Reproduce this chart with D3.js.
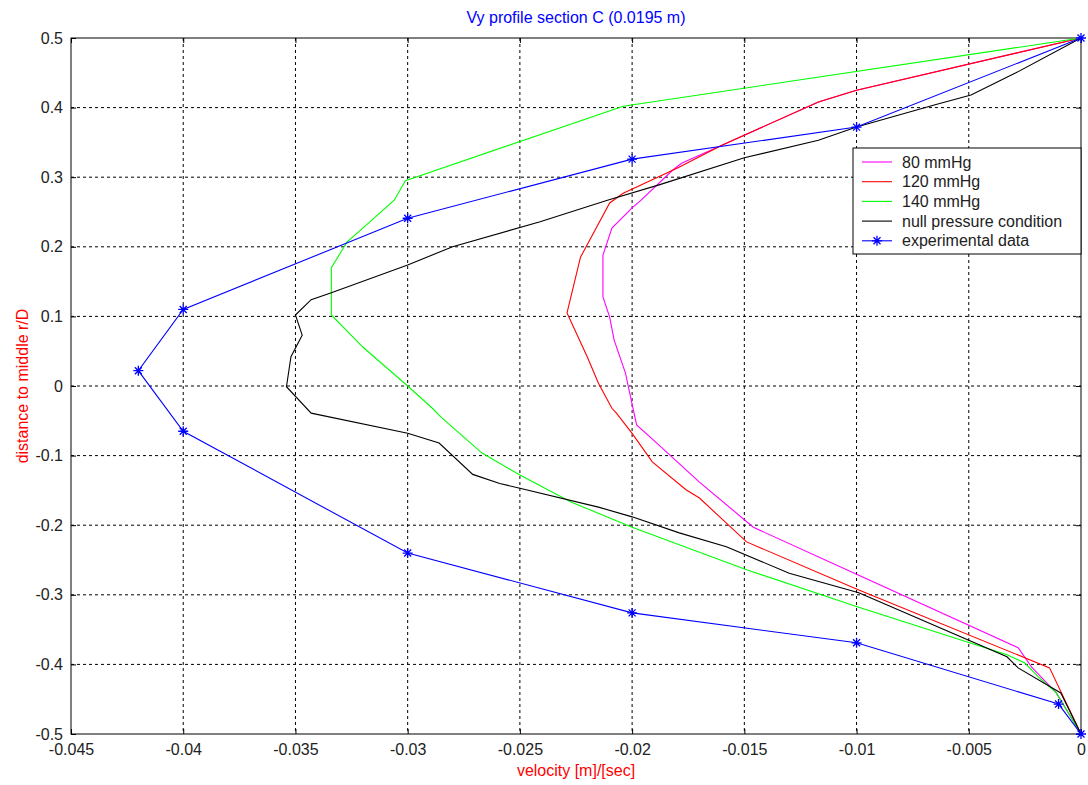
<!DOCTYPE html>
<html>
<head>
<meta charset="utf-8">
<script src="https://cdn.jsdelivr.net/npm/d3@7"></script>
<style>
  body { margin: 0; background: #fff; }
  svg { font-family: "Liberation Sans", Arial, sans-serif; }
</style>
</head>
<body>
<svg id="chart" width="1088" height="785"></svg>
<script>
// data: [velocity, r/D]
const p80 = [[0,0.5],[-0.0100,0.425],[-0.0117,0.408],[-0.0160,0.346],[-0.0178,0.320],[-0.0182,0.310],
  [-0.0196,0.267],[-0.0200,0.256],[-0.0209,0.227],[-0.0213,0.188],[-0.0213,0.128],[-0.0210,0.099],
  [-0.0208,0.066],[-0.0203,0.019],[-0.0198,-0.056],[-0.0189,-0.082],[-0.0170,-0.138],[-0.0146,-0.203],
  [-0.0099,-0.272],[-0.0028,-0.376],[-0.0022,-0.404],[-0.0011,-0.441],[0,-0.5]];

const p120 = [[0,0.5],[-0.0100,0.425],[-0.0117,0.408],[-0.0160,0.346],[-0.0180,0.313],[-0.0204,0.277],
  [-0.0210,0.263],[-0.0223,0.185],[-0.0229,0.105],[-0.0220,0.042],[-0.0215,0.004],[-0.0209,-0.032],
  [-0.0207,-0.039],[-0.0200,-0.068],[-0.0191,-0.109],[-0.0176,-0.149],[-0.0170,-0.161],[-0.0149,-0.224],
  [-0.0099,-0.293],[-0.0014,-0.405],[0,-0.5]];

const p140 = [[0,0.5],[-0.0204,0.402],[-0.0301,0.295],[-0.0306,0.267],[-0.0321,0.224],[-0.0327,0.207],
  [-0.0330,0.191],[-0.0334,0.170],[-0.0334,0.102],[-0.0320,0.056],[-0.0300,0.0],[-0.0289,-0.032],
  [-0.0285,-0.045],[-0.0267,-0.096],[-0.0250,-0.128],[-0.0227,-0.167],[-0.0200,-0.203],[-0.0149,-0.264],
  [-0.0099,-0.318],[-0.0033,-0.386],[-0.0025,-0.398],[-0.0019,-0.418],[-0.0011,-0.441],[0,-0.5]];

const pNull = [[0,0.5],[-0.0029,0.450],[-0.0049,0.418],[-0.0065,0.404],[-0.0100,0.372],[-0.0117,0.353],
  [-0.0150,0.328],[-0.0188,0.289],[-0.0211,0.267],[-0.0241,0.236],[-0.0280,0.200],[-0.0300,0.174],
  [-0.0334,0.134],[-0.0343,0.124],[-0.0350,0.102],[-0.0347,0.073],[-0.0352,0.042],[-0.0354,-0.001],
  [-0.0343,-0.039],[-0.0300,-0.068],[-0.0286,-0.082],[-0.0271,-0.127],[-0.0259,-0.140],[-0.0250,-0.147],
  [-0.0215,-0.174],[-0.0200,-0.188],[-0.0179,-0.211],[-0.0158,-0.231],[-0.0130,-0.269],[-0.0099,-0.297],
  [-0.0033,-0.389],[-0.0028,-0.405],[-0.0009,-0.441],[0,-0.5]];

const expData = [[0,0.5],[-0.01,0.372],[-0.02,0.326],[-0.03,0.241],[-0.04,0.11],[-0.042,0.022],
  [-0.04,-0.065],[-0.03,-0.24],[-0.02,-0.326],[-0.01,-0.369],[-0.001,-0.457],[0,-0.5]];

const seriesNames = ["80 mmHg", "120 mmHg", "140 mmHg", "null pressure condition", "experimental data"];
const seriesColors = ["#ff00ff", "#ff0000", "#00ff00", "#000000", "#0000ff"];

const xTicks = [-0.045, -0.04, -0.035, -0.03, -0.025, -0.02, -0.015, -0.01, -0.005, 0];
const yTicks = [0.5, 0.4, 0.3, 0.2, 0.1, 0, -0.1, -0.2, -0.3, -0.4, -0.5];

const svg = d3.select("#chart");
const margin = {top: 38, right: 7, bottom: 51, left: 71};
const width = 1088 - margin.left - margin.right;
const height = 785 - margin.top - margin.bottom;

const x = d3.scaleLinear().domain([-0.045, 0]).range([0, width]);
const y = d3.scaleLinear().domain([-0.5, 0.5]).range([height, 0]);

const g = svg.append("g").attr("transform", `translate(${margin.left},${margin.top})`);

// grid
g.append("g").selectAll("line").data(xTicks.slice(1, -1)).join("line")
  .attr("x1", d => x(d)).attr("x2", d => x(d)).attr("y1", 0).attr("y2", height)
  .attr("stroke", "#000").attr("stroke-dasharray", "3,3");
g.append("g").selectAll("line").data(yTicks.slice(1, -1)).join("line")
  .attr("y1", d => y(d)).attr("y2", d => y(d)).attr("x1", 0).attr("x2", width)
  .attr("stroke", "#000").attr("stroke-dasharray", "3,3");

const fmt = d => String(+d.toFixed(3));

// axes
const xAxis = g.append("g").attr("transform", `translate(0,${height})`)
  .call(d3.axisBottom(x).tickValues(xTicks).tickFormat(fmt).tickSizeInner(-5).tickSizeOuter(0).tickPadding(10));
const yAxis = g.append("g")
  .call(d3.axisLeft(y).tickValues(yTicks).tickFormat(fmt).tickSizeInner(-5).tickSizeOuter(0).tickPadding(8));
g.append("g").call(d3.axisTop(x).tickValues(xTicks).tickFormat("").tickSizeInner(-5).tickSizeOuter(0));
g.append("g").attr("transform", `translate(${width},0)`)
  .call(d3.axisRight(y).tickValues(yTicks).tickFormat("").tickSizeInner(-5).tickSizeOuter(0));
g.selectAll(".domain").remove();
g.selectAll(".tick line").attr("stroke", "#000");
[xAxis, yAxis].forEach(a => a.selectAll("text")
  .attr("font-size", 16).attr("fill", "#222").attr("font-family", "Liberation Sans, Arial, sans-serif"));

g.append("rect").attr("width", width).attr("height", height)
  .attr("fill", "none").attr("stroke", "#000");

// lines
const line = d3.line().x(d => x(d[0])).y(d => y(d[1]));
const allSeries = [p80, p120, p140, pNull, expData];
allSeries.forEach((s, i) => {
  g.append("path").datum(s).attr("d", line)
    .attr("fill", "none").attr("stroke", seriesColors[i]).attr("stroke-width", 1.1);
});

// asterisk markers
function asterisk(sel, r) {
  sel.append("path")
    .attr("d", `M${-r},0H${r}M0,${-r}V${r}M${-r*0.7},${-r*0.7}L${r*0.7},${r*0.7}M${-r*0.7},${r*0.7}L${r*0.7},${-r*0.7}`)
    .attr("stroke", "#0000ff").attr("stroke-width", 1.3).attr("fill", "none");
}
g.append("g").selectAll("g").data(expData).join("g")
  .attr("transform", d => `translate(${x(d[0])},${y(d[1])})`)
  .each(function() { asterisk(d3.select(this), 5); });

// title and labels
svg.append("text").attr("x", margin.left + width / 2).attr("y", 23)
  .attr("text-anchor", "middle").attr("font-size", 16).attr("fill", "#0000ff")
  .text("Vy profile section C (0.0195 m)");
svg.append("text").attr("x", margin.left + width / 2).attr("y", 776)
  .attr("text-anchor", "middle").attr("font-size", 16).attr("fill", "#ff0000")
  .text("velocity [m]/[sec]");
svg.append("text").attr("transform", `translate(28,${margin.top + height / 2}) rotate(-90)`)
  .attr("text-anchor", "middle").attr("font-size", 16).attr("fill", "#ff0000")
  .text("distance to middle r/D");

// legend
const lg = svg.append("g").attr("transform", "translate(853,148)");
lg.append("rect").attr("width", 228).attr("height", 106).attr("fill", "#fff").attr("stroke", "#000");
seriesNames.forEach((name, i) => {
  const yy = 14 + i * 19.7;
  lg.append("line").attr("x1", 9).attr("x2", 39).attr("y1", yy).attr("y2", yy)
    .attr("stroke", seriesColors[i]).attr("stroke-width", 1.1);
  if (i === 4) {
    const m = lg.append("g").attr("transform", `translate(24,${yy})`);
    asterisk(m, 5);
  }
  lg.append("text").attr("x", 49).attr("y", yy).attr("dy", "0.35em")
    .attr("font-size", 16).attr("fill", "#222").text(name);
});
</script>
</body>
</html>
